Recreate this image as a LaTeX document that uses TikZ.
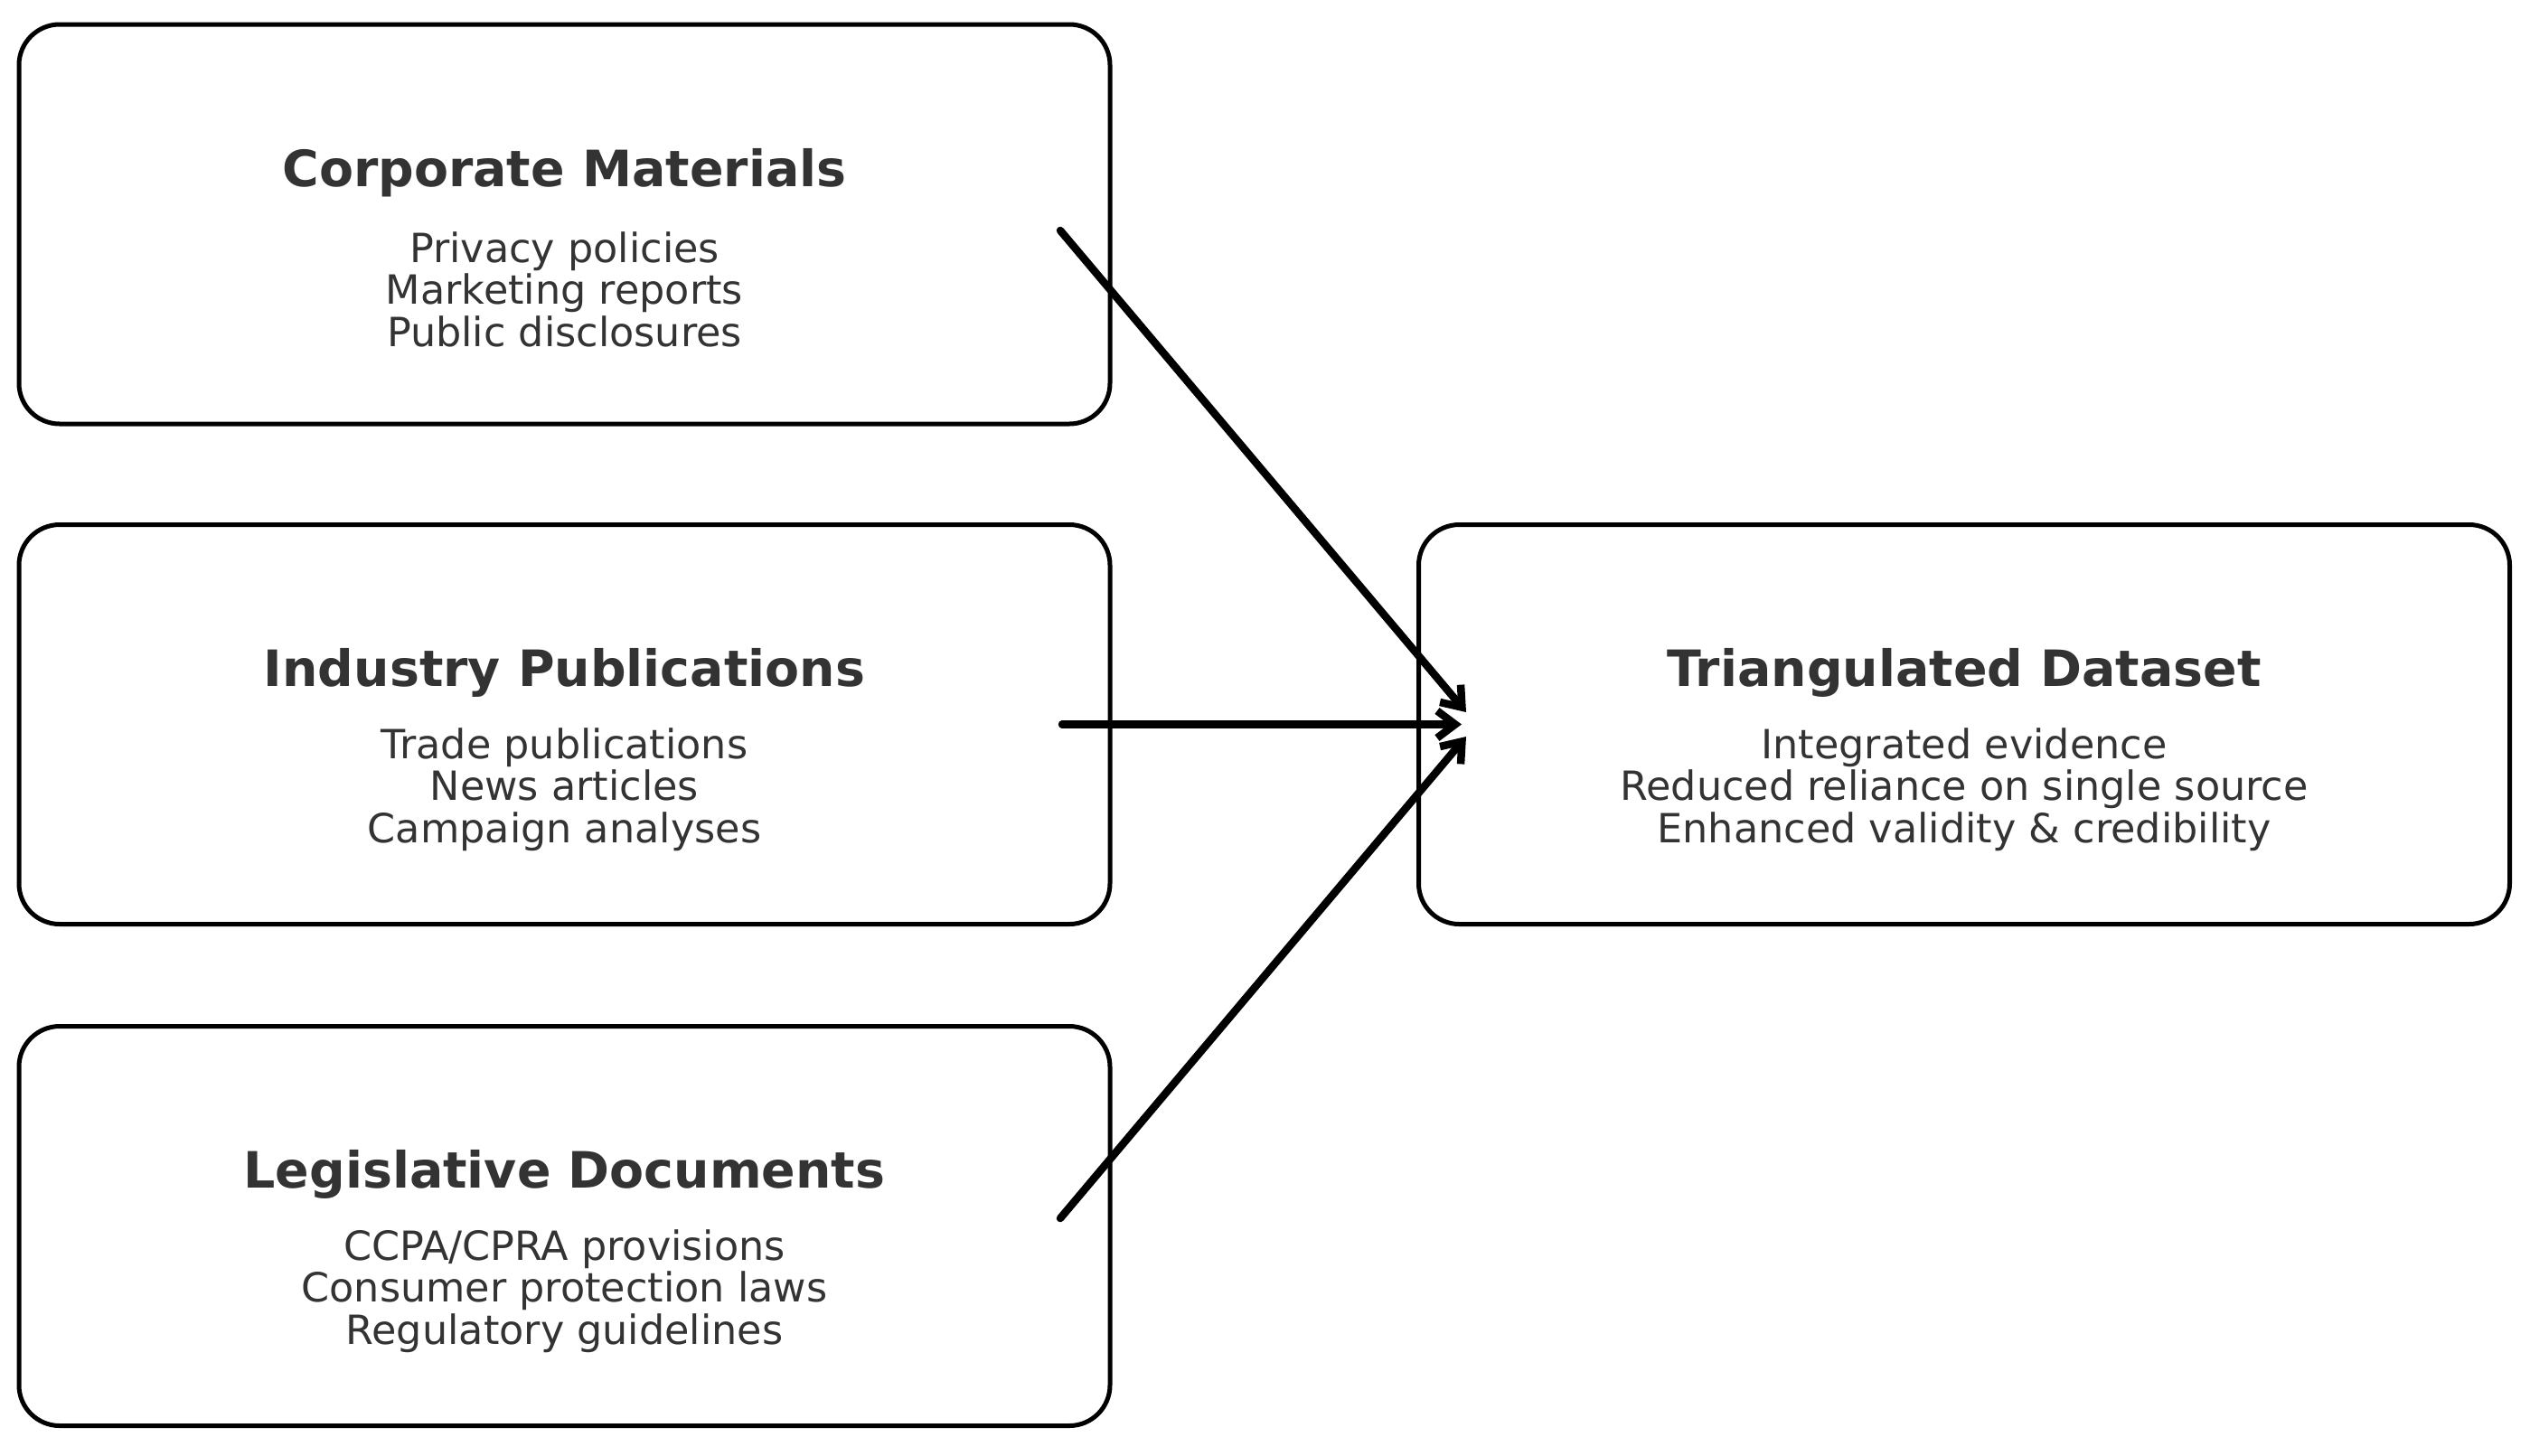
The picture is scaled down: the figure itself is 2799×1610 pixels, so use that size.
\documentclass[tikz,border=0pt]{standalone}
\usepackage{fontspec}
\setmainfont{DejaVu Sans}
\usetikzlibrary{arrows.meta,calc}
\definecolor{txt}{HTML}{333333}
\tikzset{
  srcbox/.style={draw=black, line width=5pt, rounded corners=45pt, minimum width=1207pt, minimum height=442pt, inner sep=0pt},
  ttl/.style={text=txt, font=\fontsize{55.4}{60}\selectfont\bfseries, inner sep=0pt, anchor=center},
  body/.style={text=txt, font=\fontsize{44.5}{46.5}\selectfont, align=center, inner sep=0pt, anchor=center},
  flow/.style={line width=8.5pt, line cap=round, -{Straight Barb[length=20pt,width=30pt,line width=8.5pt]}}
}
\begin{document}
\begin{tikzpicture}[x=1pt,y=-1pt]
\useasboundingbox (0,0) rectangle (2799,1610);
\node[srcbox] (b1) at (624.5,248) {};
\node[srcbox] (b2) at (624.5,801.5) {};
\node[srcbox] (b3) at (624.5,1356.5) {};
\node[srcbox] (b4) at (2173,801.5) {};

\node[ttl] (t1) at ($(b1.center)+(0,-57)$) {Corporate Materials};
\node[body] (d1) at ($(b1.center)+(0,72)$) {Privacy policies\\Marketing reports\\Public disclosures};
\node[ttl] (t2) at ($(b2.center)+(0,-57)$) {Industry Publications};
\node[body] (d2) at ($(b2.center)+(0,72)$) {Trade publications\\News articles\\Campaign analyses};
\node[ttl] (t3) at ($(b3.center)+(0,-57)$) {Legislative Documents};
\node[body] (d3) at ($(b3.center)+(0,72)$) {CCPA/CPRA provisions\\Consumer protection laws\\Regulatory guidelines};
\node[ttl] (t4) at ($(b4.center)+(0,-57)$) {Triangulated Dataset};
\node[body] (d4) at ($(b4.center)+(0,72)$) {Integrated evidence\\Reduced reliance on single source\\Enhanced validity \& credibility};

\coordinate (s1) at (1173,255);
\coordinate (s2) at (1175,801.5);
\coordinate (s3) at (1173,1348);
\coordinate (e1) at (1622,788);
\coordinate (e2) at (1617,801.5);
\coordinate (e3) at (1622,815);
\draw[flow] (s1) -- (e1);
\draw[flow] (s2) -- (e2);
\draw[flow] (s3) -- (e3);
\end{tikzpicture}
\end{document}
